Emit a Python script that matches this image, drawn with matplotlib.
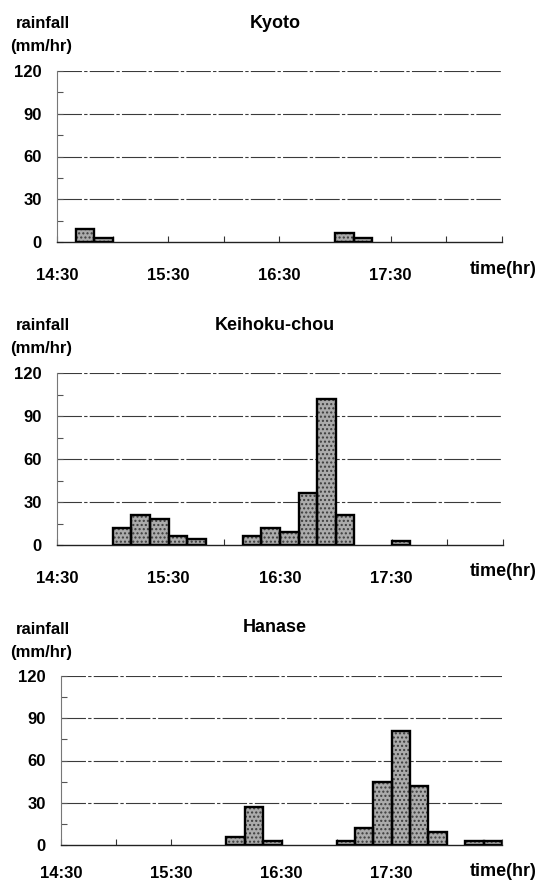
import matplotlib
matplotlib.use("Agg")
import matplotlib.pyplot as plt
from matplotlib.ticker import FixedLocator

plt.rcParams["font.family"] = ["Liberation Sans", "DejaVu Sans"]
plt.rcParams["font.weight"] = "bold"

# 10-minute bins, labelled by their start time
bin_starts = ["14:30", "14:40", "14:50", "15:00", "15:10", "15:20",
              "15:30", "15:40", "15:50", "16:00", "16:10", "16:20",
              "16:30", "16:40", "16:50", "17:00", "17:10", "17:20",
              "17:30", "17:40", "17:50", "18:00", "18:10", "18:20"]

# rainfall intensity (mm/hr) per bin
kyoto   = [0, 9, 3, 0, 0, 0, 0, 0, 0, 0, 0, 0,
           0, 0, 0, 6, 3, 0, 0, 0, 0, 0, 0, 0]
keihoku = [0, 0, 0, 12, 21, 18, 6, 4, 0, 0, 6, 12,
           9, 36, 102, 21, 0, 0, 3, 0, 0, 0, 0, 0]
hanase  = [0, 0, 0, 0, 0, 0, 0, 0, 0, 6, 27, 3,
           0, 0, 0, 3, 12, 45, 81, 42, 9, 0, 3, 3]

station_names = ["Kyoto", "Keihoku-chou", "Hanase"]
hour_labels = ["14:30", "15:30", "16:30", "17:30"]
y_ticks = [0, 30, 60, 90, 120]

W, H = 545, 884
fig = plt.figure(figsize=(W / 100, H / 100), dpi=100)


def to_min(hhmm):
    h, m = hhmm.split(":")
    return int(h) * 60 + int(m)


origin = to_min(bin_starts[0])
x_start = [to_min(t) - origin for t in bin_starts]
x_hours = [to_min(t) - origin for t in hour_labels]


def fig_xy(x, y):
    return x / W, 1 - y / H


# pixel boxes: left, right, top (120 line), bottom (0 line), x-label pad
boxes = [(57, 502, 71, 242, 19), (57, 503, 373, 545, 19),
         (61, 502, 676, 845, 15)]
series = [kyoto, keihoku, hanase]

for name, vals, (l, r, t, b, xpad) in zip(station_names, series, boxes):
    ax = fig.add_axes([l / W, 1 - b / H, (r - l) / W, (b - t) / H])
    xs = [x for x, v in zip(x_start, vals) if v > 0]
    vs = [v for v in vals if v > 0]
    # stippled fill, then solid outline
    ax.bar(xs, vs, width=10, align="edge", facecolor="#ababab",
           edgecolor="#3c3c3c", hatch="....", linewidth=0, zorder=3)
    ax.bar(xs, vs, width=10, align="edge", fill=False,
           edgecolor="black", linewidth=1.7, zorder=4)

    ax.set_xlim(0, 240)
    ax.set_ylim(0, 120)
    for s in ("top", "right"):
        ax.spines[s].set_visible(False)
    ax.spines["left"].set_color("#777777")
    ax.spines["left"].set_linewidth(0.8)
    ax.spines["bottom"].set_color("#222222")
    ax.spines["bottom"].set_linewidth(1.0)

    for yv in y_ticks[1:]:
        ax.axhline(yv, color="#3a3a3a", linewidth=0.8,
                   linestyle=(0, (22, 2, 3, 2)), zorder=1)

    ax.set_yticks(y_ticks)
    ax.set_yticklabels([str(v) for v in y_ticks])
    ax.yaxis.set_minor_locator(FixedLocator([15, 45, 75, 105]))
    ax.tick_params(axis="y", which="both", direction="in", length=4,
                   color="#555555", width=0.8, labelsize=12, pad=11)

    ax.set_xticks(x_hours)
    ax.set_xticklabels(hour_labels)
    ax.xaxis.set_minor_locator(FixedLocator(list(range(0, 241, 30))))
    ax.tick_params(axis="x", which="both", direction="in", length=4,
                   color="#333333", width=0.8, labelsize=12, pad=xpad)
    for lab in ax.get_xticklabels() + ax.get_yticklabels():
        lab.set_fontweight("bold")

    fig.text(*fig_xy(16, t - 47), "rainfall", fontsize=12,
             fontweight="bold", va="center", ha="left")
    fig.text(*fig_xy(10, t - 24), "(mm/hr)", fontsize=12,
             fontweight="bold", va="center", ha="left")
    fig.text(*fig_xy(275, t - 48), name, fontsize=13,
             fontweight="bold", va="center", ha="center")
    fig.text(*fig_xy(470, b + 27), "time(hr)", fontsize=13,
             fontweight="bold", va="center", ha="left")

fig.savefig("out.png", dpi=100, facecolor="white")
